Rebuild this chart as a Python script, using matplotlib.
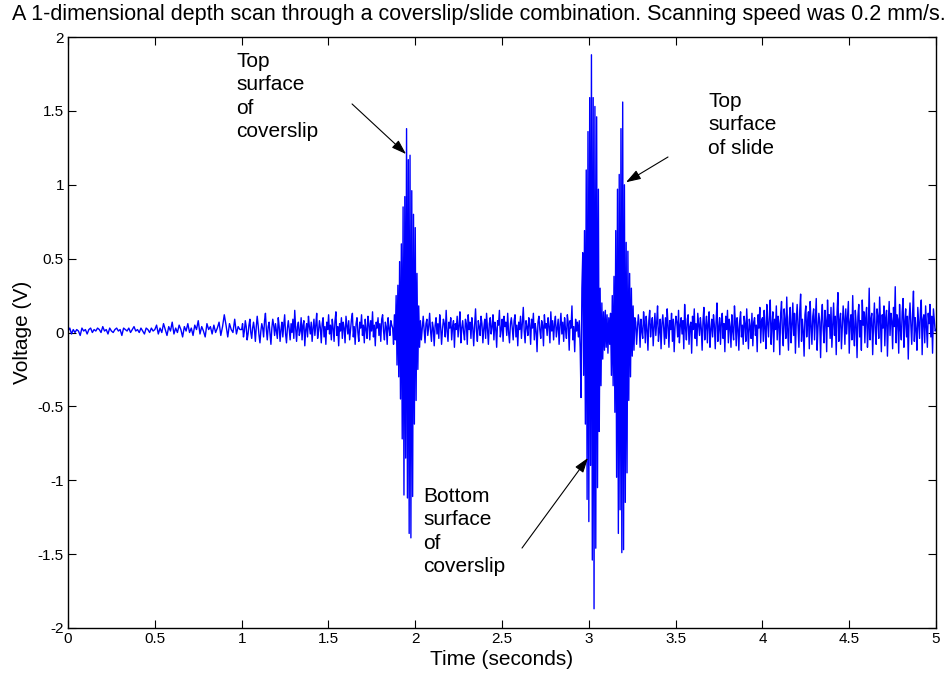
import numpy as np
import matplotlib
matplotlib.use('Agg')
import matplotlib.pyplot as plt
from matplotlib.ticker import FormatStrFormatter

plt.rcParams['font.family'] = ['Liberation Sans', 'DejaVu Sans']

# depth scan samples, split into stretches: (start s, end s, volts)
noise_0 = [0.01, 0.03, -0.01, 0.02, 0.00, 0.02, 0.01, -0.02, 0.03, 0.01, 0.02, -0.01, 0.02, 0.03, 0.00,
           0.02, 0.01, 0.03, 0.02, 0.00, 0.04, 0.01, 0.02, -0.01, 0.03, 0.01, 0.00, 0.02, 0.03, 0.01,
           0.02, -0.02, 0.03, 0.02, 0.01, 0.03, 0.00, 0.02, 0.04, 0.01, 0.02, 0.00, 0.03, 0.01, -0.01,
           0.03, 0.02, 0.00, 0.03, 0.01]
noise_1 = [0.02, 0.05, -0.01, 0.03, 0.00, 0.06, 0.02, -0.02, 0.04, 0.01, 0.07, -0.01, 0.03, 0.00, 0.05,
           0.02, -0.03, 0.04, 0.01, 0.06, 0.00, 0.03, -0.02, 0.05, 0.02, 0.08, -0.01, 0.04, 0.01, -0.03,
           0.06, 0.02, 0.04, -0.01, 0.05, 0.00, 0.03, 0.07, -0.02, 0.04, 0.12, 0.05, -0.03, 0.06, 0.02,
           0.00, 0.09, -0.01, 0.04, 0.02]
noise_2 = [0.02, 0.06, -0.03, 0.01, 0.08, 0.04, -0.05, -0.01, 0.05, 0.09,
           0.00, -0.04, 0.03, 0.07, 0.02, -0.06, 0.04, 0.11, 0.05, -0.02,
           -0.07, 0.01, 0.06, 0.03, -0.03, 0.08, 0.13, 0.02, -0.05, 0.04,
           0.07, -0.01, -0.08, 0.03, 0.09, 0.05, -0.02, 0.06, 0.01, -0.04,
           0.10, 0.04, -0.06, 0.02, 0.07, -0.03, 0.05, 0.12, -0.01, -0.07,
           0.03, 0.08, 0.02, -0.05, 0.06, 0.00, 0.09, -0.04, 0.15, 0.03,
           -0.06, 0.04, 0.07, -0.02, 0.01, 0.10, -0.05, 0.05, 0.08, -0.09,
           0.02, 0.06, -0.03, 0.11, 0.04, -0.01, 0.07, -0.06, 0.03, 0.09,
           -0.02, 0.05, 0.13, -0.04, 0.01, 0.08, 0.03, -0.07, 0.06, 0.10,
           -0.03, 0.04, -0.08, 0.07, 0.02, 0.12, -0.01, 0.05, -0.05, 0.09,
           0.03, -0.06, 0.08, 0.14, -0.02, 0.04, -0.09, 0.06, 0.01, 0.10,
           -0.04, 0.07, 0.03, -0.07, 0.11, 0.05, -0.01, 0.08, -0.05, 0.02,
           0.09, 0.13, -0.03, 0.04, -0.08, 0.06, 0.10, 0.00, -0.06, 0.07,
           0.03, 0.12, -0.02, 0.05, -0.07, 0.09, 0.02, -0.04, 0.11, 0.06,
           -0.05, 0.08, 0.01, 0.14, -0.03, 0.05, -0.09, 0.07, 0.03, 0.10,
           -0.02, 0.06, -0.06, 0.09, 0.12, 0.01, -0.05, 0.07, 0.04, -0.08,
           0.10, 0.03, -0.02, 0.08, 0.05]
burst_1 = [0.03, -0.08, 0.12, -0.05, 0.25, -0.22, 0.32, -0.30, 0.48, -0.45, 0.60, -0.72, 0.85, -1.10,
           0.92, -0.85, 1.38, -1.12, 1.17, -1.36, 1.20, -1.39, 0.96, -1.11, 0.80, -0.62, 0.71, -0.46,
           0.40, -0.25, 0.18, -0.10]
noise_3 = [0.08, -0.05, 0.03, 0.11, 0.02, -0.07, 0.06, 0.09, -0.02, 0.04,
           0.13, 0.01, -0.06, 0.07, 0.03, -0.09, 0.05, 0.10, -0.01, 0.06,
           -0.04, 0.12, 0.04, -0.08, 0.02, 0.09, 0.06, -0.03, 0.15, 0.01,
           -0.06, 0.07, 0.03, 0.10, -0.05, 0.04, 0.08, -0.10, 0.06, 0.02,
           0.11, -0.03, 0.05, 0.14, -0.07, 0.03, 0.08, 0.00, -0.05, 0.09,
           0.06, -0.08, 0.12, 0.02, 0.07, -0.04, 0.10, 0.03, -0.09, 0.05,
           0.16, 0.01, -0.06, 0.08, 0.04, -0.02, 0.11, 0.06, -0.07, 0.03,
           0.09, -0.04, 0.13, 0.02, -0.08, 0.06, 0.10, -0.01, 0.04, 0.12,
           -0.05, 0.07, 0.03, -0.10, 0.08, 0.05, 0.15, -0.03, 0.02, 0.09,
           -0.06, 0.11, 0.04, 0.07, -0.02, 0.13, 0.00, -0.07, 0.06, 0.10,
           0.03, -0.05, 0.08, 0.12, -0.03, 0.05, -0.09, 0.07, 0.02, 0.11,
           -0.04, 0.06, 0.17, 0.01, -0.07, 0.08, 0.04, -0.02, 0.10, 0.05,
           -0.08, 0.09, 0.03, 0.13, -0.05, 0.06, 0.01, -0.13, 0.07, 0.11,
           0.02, -0.04, 0.08, 0.05, -0.09, 0.12, 0.03, 0.06, -0.02, 0.10,
           0.04, -0.07, 0.14, 0.01, 0.08, -0.05, 0.06, 0.11, -0.03, 0.03,
           0.09, -0.08, 0.05, 0.13, -0.01, 0.07, -0.06, 0.10, 0.02, -0.04,
           0.12, 0.06, -0.12, 0.08, 0.03, 0.18, -0.05, 0.04, -0.13, 0.09,
           0.01, 0.07, -0.03]
burst_2 = [0.08, -0.10, -0.44, 0.30, 0.54, -0.29, 0.69, -0.62, 1.10, -1.13, 1.36, -1.28, 1.59, -0.90,
           1.88, -1.54, 1.59, -1.87, 1.53, -1.46, 1.46, -1.05, 0.97, -0.67, 0.30, -0.36, 0.20, -0.18,
           0.14, -0.12, 0.15, -0.10, 0.12, -0.14, 0.10, -0.08, 0.13, -0.29, 0.25, -0.36, 0.38, -0.54,
           0.69, -0.98, 0.97, -1.36, 1.07, -1.20, 1.38, -1.49, 1.56, -1.47, 1.00, -1.15, 0.61, -0.95,
           0.55, -0.46, 0.40, -0.30, 0.30, -0.16, 0.18, -0.12, 0.10]
noise_4 = [0.07, -0.08, 0.03, 0.12, 0.05, -0.10, 0.09, 0.01, -0.04, 0.14,
           0.06, -0.07, 0.11, 0.02, -0.12, 0.08, 0.15, -0.03, 0.05, 0.10,
           -0.09, 0.04, 0.13, -0.02, 0.07, 0.18, -0.06, 0.01, 0.09, -0.11,
           0.06, 0.12, 0.03, -0.08, 0.10, -0.04, 0.16, 0.05, -0.10, 0.08,
           0.02, 0.13, -0.06, 0.09, -0.13, 0.04, 0.11, 0.07, -0.03, 0.15,
           -0.07, 0.05, 0.10, -0.01, 0.08, -0.11, 0.19, 0.03, -0.05, 0.09,
           0.12, -0.08, 0.04, 0.07, -0.14, 0.11, 0.02, 0.16, -0.04, 0.06,
           -0.09, 0.13, 0.05, -0.02, 0.10, 0.03, -0.12, 0.08, 0.17, -0.05,
           0.04, 0.11, -0.07, 0.06, 0.14, -0.10, 0.02, 0.09, -0.03, 0.12,
           0.05, -0.11, 0.08, 0.20, -0.06, 0.03, 0.10, -0.08, 0.07, 0.13,
           -0.04, 0.06, -0.13, 0.11, 0.02, 0.15, -0.07, 0.09, 0.04, -0.10,
           0.12, 0.01, -0.05, 0.18, 0.07, -0.09, 0.10, 0.03, -0.12, 0.08,
           0.14, -0.03, 0.05, -0.08, 0.11, 0.06, -0.06, 0.16, 0.02, -0.11,
           0.09, 0.04, -0.04, 0.13, -0.09, 0.07, 0.10, -0.02, 0.05, -0.13,
           0.12, 0.03, 0.17, -0.07, 0.08]
noise_5 = [0.10, -0.06, 0.15, 0.03, -0.11, 0.19, 0.07, -0.03, 0.12, 0.22,
           -0.08, 0.05, 0.14, -0.13, 0.09, 0.02, 0.18, -0.05, 0.11, 0.06,
           -0.15, 0.13, 0.21, 0.00, -0.09, 0.16, 0.08, -0.04, 0.24, 0.03,
           -0.12, 0.10, 0.17, -0.07, 0.05, 0.20, -0.02, 0.13, -0.14, 0.08,
           0.19, 0.04, -0.10, 0.15, 0.26, -0.06, 0.09, 0.01, -0.16, 0.12,
           0.18, -0.03, 0.07, 0.14, -0.11, 0.21, 0.05, -0.08, 0.11, 0.16,
           -0.05, 0.09, 0.23, -0.12, 0.03, 0.13, 0.07, -0.17, 0.10, 0.19,
           0.02, -0.07, 0.15, 0.08, -0.13, 0.22, 0.04, 0.12, -0.04, 0.17,
           -0.10, 0.06, 0.20, -0.02, 0.11, -0.15, 0.14, 0.27, -0.06, 0.08,
           0.13, -0.11, 0.03, 0.18, 0.09, -0.08, 0.16, -0.01, 0.10, 0.21,
           -0.14, 0.07, 0.12, -0.05, 0.25, 0.02, -0.09, 0.15, 0.06, -0.17,
           0.11, 0.19, -0.03, 0.08, -0.12, 0.22, 0.05, 0.14, -0.07, 0.10,
           0.17, -0.10, 0.04, 0.30, -0.05, 0.09, 0.13, -0.15, 0.06, 0.20,
           0.01, -0.08, 0.16, 0.11, -0.04, 0.24, 0.07, -0.13, 0.12, 0.03,
           0.18, -0.09, 0.10, 0.15, -0.16, 0.06, 0.21, -0.02, 0.13, 0.08,
           -0.11, 0.17, 0.04, 0.31, -0.07, 0.12, 0.09, -0.14, 0.19, 0.02,
           -0.05, 0.14, 0.23, -0.10, 0.07, 0.16, -0.03, 0.11, -0.18, 0.09,
           0.20, 0.05, -0.08, 0.13, 0.28, -0.06, 0.10, 0.02, -0.12, 0.17,
           0.07, -0.04, 0.15, 0.22, -0.15, 0.09, 0.12, -0.07, 0.18, 0.04,
           -0.10, 0.13, 0.06, 0.19, -0.03, 0.11, -0.14, 0.16, 0.08, 0.01]

segments = [(0.0, 0.5, noise_0), (0.5, 1.0, noise_1), (1.0, 1.87, noise_2),
            (1.87, 2.03, burst_1), (2.03, 2.945, noise_3), (2.945, 3.27, burst_2),
            (3.27, 4.0, noise_4), (4.0, 5.0, noise_5)]

t = np.concatenate([np.linspace(a, b, len(v), endpoint=False) for a, b, v in segments])
volts = np.concatenate([np.array(v) for a, b, v in segments])
t = np.append(t, 5.0)
volts = np.append(volts, 0.02)

fig = plt.figure(figsize=(9.53, 6.77), dpi=100)
ax = fig.add_axes([0.0714, 0.0724, 0.9108, 0.8729])
ax.plot(t, volts, color=(0, 0, 1), lw=1.0)

ax.set_xlim(0, 5)
ax.set_ylim(-2, 2)
ax.set_xticks(np.arange(0, 5.01, 0.5))
ax.set_yticks(np.arange(-2, 2.01, 0.5))
ax.xaxis.set_major_formatter(FormatStrFormatter('%g'))
ax.yaxis.set_major_formatter(FormatStrFormatter('%g'))
ax.tick_params(direction='in', top=True, right=True, length=6, width=0.8, labelsize=11, pad=3)
for s in ax.spines.values():
    s.set_linewidth(1.0)

ax.set_xlabel('Time (seconds)', fontsize=15, labelpad=3)
ax.set_ylabel('Voltage (V)', fontsize=15, labelpad=4)
fig.text(0.503, 0.978, 'A 1-dimensional depth scan through a coverslip/slide combination. Scanning speed was 0.2 mm/s.',
         ha='center', va='center', fontsize=15.5)

arrow = dict(arrowstyle='-|>,head_length=0.9,head_width=0.3', color='k', lw=0.8, shrinkA=0, shrinkB=0)
ax.annotate('', xy=(1.947, 1.208), xytext=(1.636, 1.547), arrowprops=arrow)
ax.annotate('', xy=(3.214, 1.017), xytext=(3.456, 1.188), arrowprops=arrow)
ax.annotate('', xy=(2.995, -0.849), xytext=(2.615, -1.459), arrowprops=arrow)

note = dict(fontsize=15, va='top', ha='left', linespacing=1.3)
ax.text(0.968, 1.90, 'Top\nsurface\nof\ncoverslip', **note)
ax.text(3.687, 1.63, 'Top\nsurface\nof slide', **note)
ax.text(2.045, -1.045, 'Bottom\nsurface\nof\ncoverslip', **note)

fig.savefig('out.png', dpi=100)
